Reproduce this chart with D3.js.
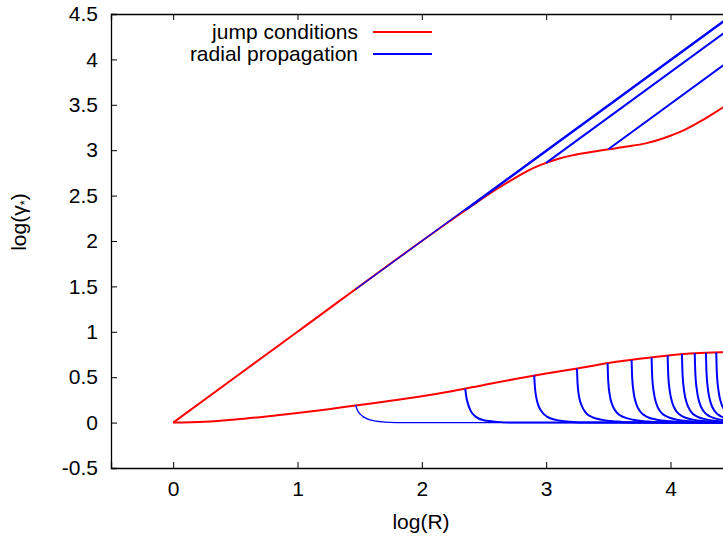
<!DOCTYPE html>
<html><head><meta charset="utf-8">
<script src="https://cdn.jsdelivr.net/npm/d3@7"></script>
<style>
html,body{margin:0;padding:0;background:#fff;overflow:hidden;}
text{font-family:"Liberation Sans",Arial,sans-serif;fill:#000;}
</style></head>
<body>
<svg id="c" width="723" height="537"></svg>
<script>
// ---- data ----
const xTicks = [0, 1, 2, 3, 4];
const xTicksTop = [0, 1, 2, 3, 4, 5];
const yTicks = [-0.5, 0, 0.5, 1, 1.5, 2, 2.5, 3, 3.5, 4, 4.5];
const legendLabels = ["jump conditions", "radial propagation"];

// upper "jump conditions" curve [log R, log gamma]
const jumpUpper = [[0,0],[1,1],[2,2],[2.2,2.195],[2.4,2.385],[2.6,2.57],[2.7,2.655],[2.8,2.735],[2.9,2.805],[3.0,2.86],[3.1,2.905],[3.2,2.94],[3.35,2.978],[3.5,3.01],[3.65,3.04],[3.8,3.075],[3.95,3.135],[4.1,3.215],[4.25,3.325],[4.42,3.47],[4.6,3.63],[5.0,3.95]];
// lower "jump conditions" curve
const jumpLower = [[0,0],[0.25,0.01],[0.5,0.035],[0.75,0.068],[1.0,0.105],[1.25,0.148],[1.5,0.195],[1.75,0.24],[2.0,0.29],[2.25,0.348],[2.5,0.415],[2.75,0.48],[3.0,0.54],[3.25,0.596],[3.5,0.656],[3.75,0.703],[4.0,0.742],[4.2,0.764],[4.42,0.775],[4.7,0.78],[5.0,0.78]];

// radial propagation, rising branches
const radUp1 = [[1.468,1.468],[5.0,5.0]];
const radUp2 = [[2.35,2.34],[5.0,4.99]];
const radUp3 = [[3.0,2.86],[5.0,4.86]];
const radUp4 = [[3.5,3.01],[5.0,4.51]];

// radial propagation, decaying branches
const radDown1  = [[1.468,0.195],[1.475,0.16],[1.487,0.124],[1.507,0.09],[1.53,0.063],[1.56,0.042],[1.6,0.024],[1.68,0.008],[1.8,0.0],[5.0,0.0]];
const radDown2  = [[2.349,0.375],[2.357,0.29],[2.373,0.198],[2.395,0.124],[2.435,0.063],[2.50,0.025],[2.61,0.008],[2.75,0.0],[5.0,0.0]];
const radDown3  = [[2.904,0.518],[2.909,0.40],[2.92,0.28],[2.937,0.19],[2.965,0.12],[3.01,0.063],[3.08,0.03],[3.19,0.01],[3.33,0.0],[5.0,0.0]];
const radDown4  = [[3.248,0.595],[3.253,0.42],[3.267,0.27],[3.288,0.18],[3.32,0.107],[3.374,0.058],[3.454,0.03],[3.56,0.013],[3.70,0.0],[5.0,0.0]];
const radDown5  = [[3.494,0.657],[3.499,0.46],[3.512,0.30],[3.532,0.195],[3.565,0.115],[3.62,0.062],[3.70,0.031],[3.81,0.013],[3.95,0.0],[5.0,0.0]];
const radDown6  = [[3.687,0.69],[3.692,0.49],[3.705,0.32],[3.725,0.205],[3.758,0.12],[3.812,0.064],[3.89,0.032],[4.0,0.014],[4.14,0.0],[5.0,0.0]];
const radDown7  = [[3.848,0.718],[3.853,0.5],[3.866,0.33],[3.886,0.21],[3.918,0.122],[3.972,0.065],[4.05,0.032],[4.16,0.014],[4.30,0.0],[5.0,0.0]];
const radDown8  = [[3.977,0.74],[3.982,0.52],[3.995,0.34],[4.015,0.215],[4.047,0.125],[4.10,0.066],[4.18,0.033],[4.29,0.014],[4.43,0.0],[5.0,0.0]];
const radDown9  = [[4.092,0.757],[4.097,0.53],[4.11,0.345],[4.13,0.218],[4.162,0.126],[4.215,0.066],[4.295,0.033],[4.40,0.014],[4.54,0.0],[5.0,0.0]];
const radDown10 = [[4.195,0.765],[4.20,0.535],[4.213,0.35],[4.233,0.22],[4.265,0.127],[4.318,0.067],[4.40,0.033],[4.50,0.014],[4.64,0.0],[5.0,0.0]];
const radDown11 = [[4.285,0.77],[4.29,0.54],[4.303,0.35],[4.323,0.22],[4.355,0.127],[4.408,0.067],[4.49,0.033],[4.59,0.014],[4.73,0.0],[5.0,0.0]];
const radDown12 = [[4.368,0.773],[4.373,0.54],[4.386,0.352],[4.406,0.222],[4.438,0.128],[4.49,0.067],[4.57,0.033],[4.67,0.014],[4.81,0.0],[5.0,0.0]];

const radThin = [radUp1, radDown1];
const radThick = [radUp2, radUp3, radUp4, radDown2, radDown3, radDown4, radDown5, radDown6, radDown7, radDown8, radDown9, radDown10, radDown11, radDown12];

// ---- drawing ----
const svg = d3.select("#c");
const L = 111, T = 14, B = 468, R = 857;
const x = d3.scaleLinear().domain([-0.5, 5.5]).range([L, R]);
const y = d3.scaleLinear().domain([-0.5, 4.5]).range([B, T]);

svg.append("defs").append("clipPath").attr("id","clip")
  .append("rect").attr("x",L).attr("y",T).attr("width",R-L).attr("height",B-T);

// axes (ticks inward)
const fs = "21px";
const axB = svg.append("g").attr("transform",`translate(0,${B})`)
  .call(d3.axisBottom(x).tickValues(xTicks).tickSize(-6).tickPadding(14).tickFormat(d3.format("d")));
const axT = svg.append("g").attr("transform",`translate(0,${T})`)
  .call(d3.axisTop(x).tickValues(xTicksTop).tickSize(-6).tickFormat(""));
const axL = svg.append("g").attr("transform",`translate(${L},0)`)
  .call(d3.axisLeft(y).tickValues(yTicks).tickSize(-6).tickPadding(13).tickFormat(d => d3.format("")(d).replace("−","-")));
[axB, axT, axL].forEach(g => {
  g.select(".domain").attr("stroke","#000").attr("stroke-width",1.3);
  g.selectAll(".tick line").attr("stroke","#000").attr("stroke-width",1);
  g.selectAll("text").style("font-family","Liberation Sans, Arial, sans-serif").style("font-size",fs).attr("fill","#000");
});
axB.selectAll("text").attr("dy","0.68em");

// axis titles
svg.append("text").attr("x", 421).attr("y", 529).attr("text-anchor","middle")
  .style("font-size",fs).text("log(R)");
const yt = svg.append("text").attr("transform","translate(26,222) rotate(-90)").attr("text-anchor","middle")
  .style("font-size",fs);
yt.append("tspan").text("log(γ");
yt.append("tspan").attr("font-size","13px").attr("dy","3").text("*");
yt.append("tspan").attr("dy","-3").text(")");

const line = d3.line().x(d => x(d[0])).y(d => y(d[1])).curve(d3.curveMonotoneX);
const plot = svg.append("g").attr("clip-path","url(#clip)");

plot.selectAll("path.jump").data([jumpUpper, jumpLower]).join("path")
  .attr("class","jump").attr("d", line).attr("fill","none")
  .attr("stroke","#ff0000").attr("stroke-width",2);
plot.selectAll("path.radthin").data(radThin).join("path")
  .attr("class","radthin").attr("d", line).attr("fill","none")
  .attr("stroke","#0000ff").attr("stroke-width",1.3);
plot.selectAll("path.radthick").data(radThick).join("path")
  .attr("class","radthick").attr("d", line).attr("fill","none")
  .attr("stroke","#0000ff").attr("stroke-width",2);

// legend
const lg = svg.append("g");
const legendColors = ["#ff0000", "#0000ff"];
legendLabels.forEach((t, i) => {
  const ly = 32 + i * 22;
  lg.append("text").attr("x", 358).attr("y", ly).attr("dy","0.35em").attr("text-anchor","end")
    .style("font-size", fs).text(t);
  lg.append("line").attr("x1", 373).attr("x2", 432).attr("y1", ly).attr("y2", ly)
    .attr("stroke", legendColors[i]).attr("stroke-width", 2);
});
</script>
</body></html>
